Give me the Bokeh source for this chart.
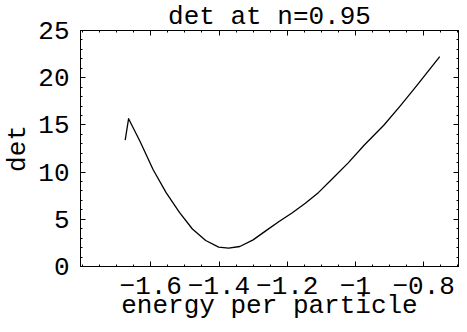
from bokeh.plotting import figure
from bokeh.models import FixedTicker, LinearAxis, Range1d, CustomJSTickFormatter
from bokeh.embed import file_html
from bokeh.resources import INLINE

# data
energy = [-1.675, -1.665, -1.631, -1.593, -1.555, -1.516, -1.478, -1.439, -1.401,
          -1.372, -1.339, -1.300, -1.262, -1.224, -1.185, -1.147, -1.108, -1.070,
          -1.022, -0.974, -0.917, -0.868, -0.821, -0.753]
det = [13.39, 15.66, 13.21, 10.25, 7.82, 5.73, 3.97, 2.75, 2.06,
       1.94, 2.12, 2.82, 3.80, 4.76, 5.70, 6.69, 7.85, 9.21,
       10.95, 12.87, 14.96, 17.05, 19.14, 22.23]

xticks = [-1.6, -1.4, -1.2, -1.0, -0.8]
xtick_labels = ["\u22121.6", "\u22121.4", "\u22121.2", "\u22121", "\u22120.8"]
xminor = [round(-1.8 + 0.05 * i, 2) for i in range(23)]
yticks = [0, 5, 10, 15, 20, 25]
yminor = list(range(0, 26))

FONT = "Liberation Mono"
FS = "26px"

p = figure(width=459, height=324, output_backend="svg", toolbar_location=None,
           x_range=Range1d(-1.806, -0.698), y_range=Range1d(0, 25),
           min_border_left=80, min_border_right=1, min_border_top=30,
           min_border_bottom=58, background_fill_color="white",
           border_fill_color="white")

p.title.text = "det at n=0.95"
p.title.align = "center"
p.title.text_font = FONT
p.title.text_font_size = FS
p.title.text_font_style = "normal"
p.title.text_color = "black"
p.title.standoff = -2
p.title.offset = 0

p.grid.visible = False
p.outline_line_color = "black"

p.line(energy, det, line_color="black", line_width=1.3, line_join="round")

def style(ax, labels=True):
    ax.major_tick_in = 5
    ax.major_tick_out = 0
    ax.minor_tick_in = 2
    ax.minor_tick_out = 0
    ax.axis_line_color = "black"
    ax.major_tick_line_color = "black"
    ax.minor_tick_line_color = "black"
    ax.major_label_text_font = FONT
    ax.major_label_text_font_size = FS
    ax.major_label_text_color = "black"
    ax.axis_label_text_font = FONT
    ax.axis_label_text_font_size = FS
    ax.axis_label_text_font_style = "normal"
    ax.axis_label_text_color = "black"
    if not labels:
        ax.formatter = CustomJSTickFormatter(code="return ''")
        ax.major_label_standoff = 0

xax = p.xaxis[0]
xax.ticker = FixedTicker(ticks=xticks, minor_ticks=xminor)
xax.major_label_overrides = dict(zip(xticks, xtick_labels))
xax.axis_label = "energy per particle"
style(xax)
xax.major_label_standoff = 10
xax.axis_label_standoff = -6

yax = p.yaxis[0]
yax.ticker = FixedTicker(ticks=yticks, minor_ticks=yminor)
yax.axis_label = "det"
style(yax)
yax.major_label_standoff = 11
yax.axis_label_standoff = 2

top = LinearAxis(ticker=FixedTicker(ticks=xticks, minor_ticks=xminor))
style(top, labels=False)
p.add_layout(top, "above")

right = LinearAxis(ticker=FixedTicker(ticks=yticks, minor_ticks=yminor))
style(right, labels=False)
p.add_layout(right, "right")

open("out.html", "w").write(file_html(p, INLINE))
